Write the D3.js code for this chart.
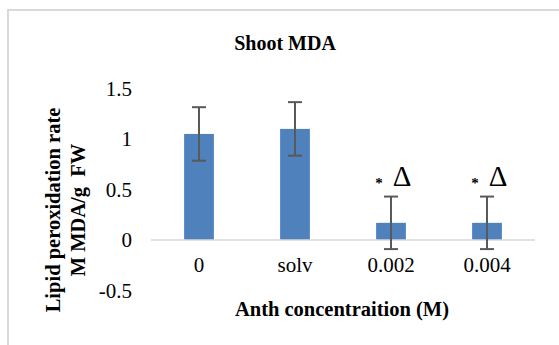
<!DOCTYPE html>
<html>
<head>
<meta charset="utf-8">
<script src="https://cdn.jsdelivr.net/npm/d3@7"></script>
<style>
  html, body { margin: 0; padding: 0; background: #fff; }
  svg { display: block; }
  text { font-family: "Liberation Serif", "Times New Roman", serif; fill: #000; }
</style>
</head>
<body>
<svg id="chart" width="559" height="345"></svg>
<script>
const categories = ["0", "solv", "0.002", "0.004"];
const values = [1.05, 1.10, 0.17, 0.17];
const errors = [0.265, 0.265, 0.26, 0.26];
const significant = [false, false, true, true];
const yTicks = [-0.5, 0, 0.5, 1, 1.5];
const yTickLabels = ["-0.5", "0", "0.5", "1", "1.5"];
const chartTitle = "Shoot MDA";
const xTitle = "Anth concentraition (M)";
const yTitleLines = ["Lipid peroxidation rate", "M MDA/g  FW"];

const svg = d3.select("#chart");

// outer frame (extends beyond the visible area at right/bottom)
svg.append("rect")
  .attr("x", 8).attr("y", 10)
  .attr("width", 600).attr("height", 400)
  .attr("fill", "#fff")
  .attr("stroke", "#d9d9d9").attr("stroke-width", 2);

const x = d3.scaleBand()
  .domain(categories)
  .range([151, 535])
  .paddingInner(0.69)
  .paddingOuter(0.345);

const y = d3.scaleLinear()
  .domain([-0.5, 1.5])
  .range([290.5, 88.5]);

// y tick labels
svg.append("g")
  .selectAll("text")
  .data(yTicks)
  .join("text")
  .attr("x", 132)
  .attr("y", d => y(d))
  .attr("dy", "0.35em")
  .attr("text-anchor", "end")
  .style("font-size", "21px")
  .text((d, i) => yTickLabels[i]);

// bars
svg.append("g")
  .selectAll("rect")
  .data(values)
  .join("rect")
  .attr("x", (d, i) => x(categories[i]))
  .attr("width", x.bandwidth())
  .attr("y", d => y(Math.max(0, d)))
  .attr("height", d => Math.abs(y(d) - y(0)))
  .attr("fill", "#4f81bd");

// zero axis line
svg.append("line")
  .attr("x1", 151).attr("x2", 535)
  .attr("y1", y(0)).attr("y2", y(0))
  .attr("stroke", "#d9d9d9").attr("stroke-width", 1.5);

// error bars
const eb = svg.append("g").attr("stroke", "#595959").attr("stroke-width", 2);
values.forEach((v, i) => {
  const cx = x(categories[i]) + x.bandwidth() / 2;
  const capW = 7;
  eb.append("line").attr("x1", cx).attr("x2", cx)
    .attr("y1", y(v + errors[i])).attr("y2", y(v - errors[i]));
  eb.append("line").attr("x1", cx - capW).attr("x2", cx + capW)
    .attr("y1", y(v + errors[i])).attr("y2", y(v + errors[i]));
  eb.append("line").attr("x1", cx - capW).attr("x2", cx + capW)
    .attr("y1", y(v - errors[i])).attr("y2", y(v - errors[i]));
});

// significance markers
values.forEach((v, i) => {
  if (!significant[i]) return;
  const cx = x(categories[i]) + x.bandwidth() / 2;
  const top = y(v + errors[i]);
  svg.append("text")
    .attr("x", cx - 12).attr("y", top - 9)
    .attr("text-anchor", "middle")
    .style("font-size", "15px")
    .style("font-weight", "bold")
    .text("*");
  svg.append("text")
    .attr("x", cx + 11).attr("y", top - 11)
    .attr("text-anchor", "middle")
    .style("font-size", "29px")
    .text("\u0394");
});

// x tick labels
svg.append("g")
  .selectAll("text")
  .data(categories)
  .join("text")
  .attr("x", d => x(d) + x.bandwidth() / 2)
  .attr("y", 272)
  .attr("text-anchor", "middle")
  .style("font-size", "21px")
  .text(d => d);

// chart title
svg.append("text")
  .attr("x", 285).attr("y", 49.5)
  .attr("text-anchor", "middle")
  .style("font-size", "20px")
  .style("font-weight", "bold")
  .text(chartTitle);

// x axis title
svg.append("text")
  .attr("x", 342).attr("y", 316)
  .attr("text-anchor", "middle")
  .style("font-size", "20.5px")
  .style("font-weight", "bold")
  .text(xTitle);

// y axis title (two lines)
const yBase = [60, 85];
yTitleLines.forEach((t, i) => {
  svg.append("text")
    .attr("transform", `translate(${yBase[i]},210) rotate(-90)`)
    .attr("text-anchor", "middle")
    .style("font-size", "20.5px")
    .style("font-weight", "bold")
    .style("white-space", "pre")
    .attr("xml:space", "preserve")
    .text(t);
});
</script>
</body>
</html>
